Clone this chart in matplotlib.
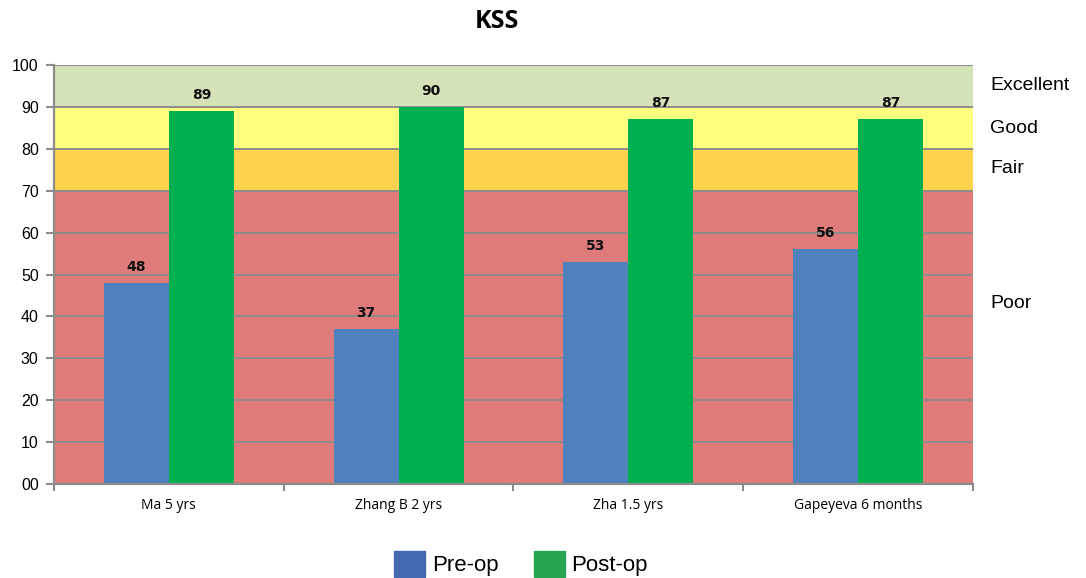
import matplotlib.pyplot as plt
import numpy as np

studies = ["Ma 5 yrs", "Zhang B 2 yrs", "Zha 1.5 yrs", "Gapeyeva 6 months"]
pre_op = [48, 37, 53, 56]
post_op = [89, 90, 87, 87]

# score bands: (low, high, colour, label)
band_edges = [0, 70, 80, 90, 100]
band_names = ["Poor", "Fair", "Good", "Excellent"]
band_colors = ["#E07B7B", "#FFD34F", "#FFFF7F", "#D4E2B8"]

y_ticks = list(range(0, 101, 10))
y_tick_labels = ["00"] + [str(v) for v in y_ticks[1:]]

fig = plt.figure(figsize=(10.86, 5.78), dpi=100, facecolor="white")
ax = fig.add_axes([0.0497, 0.1626, 0.8462, 0.7249])

x = np.arange(len(studies))
width = 0.283

for lo, hi, col in zip(band_edges[:-1], band_edges[1:], band_colors):
    ax.axhspan(lo, hi, color=col, zorder=0, lw=0)
for v in y_ticks:
    ax.axhline(v, color="#8c8c8c", lw=1.4, zorder=1)

pre_bars = ax.bar(x - width / 2, pre_op, width, color="#4F81BD", zorder=2)
post_bars = ax.bar(x + width / 2, post_op, width, color="#00B050", zorder=2)

for bars, vals in ((pre_bars, pre_op), (post_bars, post_op)):
    for b, v in zip(bars, vals):
        ax.text(b.get_x() + b.get_width() / 2, v + 2.2, f"{v}",
                ha="center", va="bottom", fontsize=10, fontweight="bold",
                color="#111111", zorder=3)

ax.set_xlim(-0.5, len(studies) - 0.5)
ax.set_ylim(0, 100)
ax.set_yticks(y_ticks)
ax.set_yticklabels(y_tick_labels, fontsize=11.5, family="Liberation Sans")
ax.set_xticks(x)
ax.set_xticklabels(studies, fontsize=10, family="Open Sans")
ax.tick_params(axis="x", length=0, pad=10)
ax.set_xticks(np.arange(-0.5, len(studies)), minor=True)
ax.tick_params(axis="x", which="minor", length=5, width=1.5, color="#8c8c8c")
ax.tick_params(axis="y", length=6, width=1.5, color="#8c8c8c", pad=5)

for side in ("top", "right"):
    ax.spines[side].set_visible(False)
for side in ("left", "bottom"):
    ax.spines[side].set_color("#8c8c8c")
    ax.spines[side].set_linewidth(1.6)

# band names on the right
band_label_y = {"Excellent": 95.2, "Good": 84.8, "Fair": 75.3, "Poor": 43.2}
for name in band_names:
    ax.text(1.019, band_label_y[name] / 100, name, transform=ax.transAxes,
            fontsize=14, family="Liberation Sans", va="center", ha="left")

fig.text(497 / 1086, 1 - 22 / 578, "KSS", ha="center", va="center",
         fontsize=18, fontweight="bold", family="Open Sans")

handles = [plt.Rectangle((0, 0), 1, 1, color="#4469B0"),
           plt.Rectangle((0, 0), 1, 1, color="#27A550")]
fig.legend(handles, ["Pre-op", "Post-op"], loc="center",
           bbox_to_anchor=(521 / 1086, 1 - 564 / 578), ncol=2, frameon=False,
           prop={"family": "Liberation Sans", "size": 16},
           handlelength=1.4, handleheight=1.4, handletextpad=0.3,
           columnspacing=1.6)

fig.savefig("out.png", dpi=100)
